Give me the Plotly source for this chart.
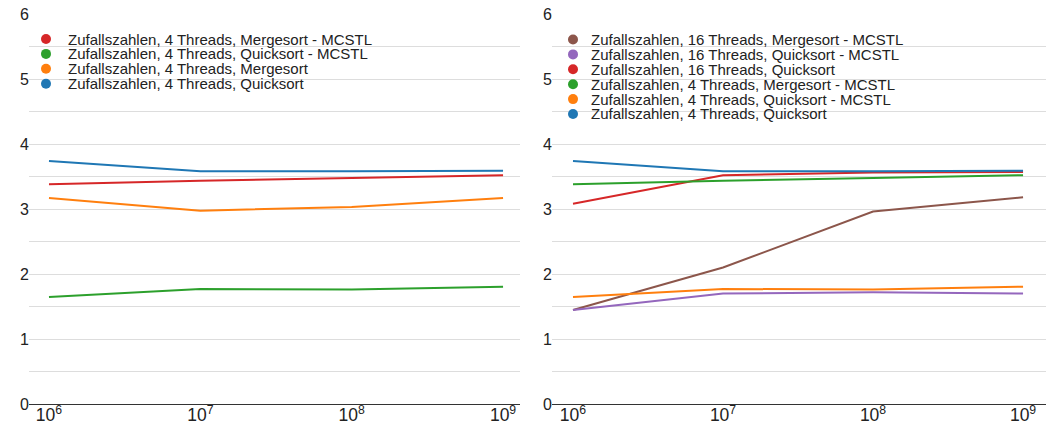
import plotly.graph_objects as go
from plotly.subplots import make_subplots

# Data
x_sizes = [1e6, 1e7, 1e8, 1e9]

left_names = [
    "Zufallszahlen, 4 Threads, Mergesort - MCSTL",
    "Zufallszahlen, 4 Threads, Quicksort - MCSTL",
    "Zufallszahlen, 4 Threads, Mergesort",
    "Zufallszahlen, 4 Threads, Quicksort",
]
left_values = [
    [3.38, 3.435, 3.477, 3.52],
    [1.646, 1.77, 1.76, 1.805],
    [3.17, 2.975, 3.03, 3.17],
    [3.74, 3.58, 3.58, 3.59],
]
left_colors = ["#d62728", "#2ca02c", "#ff7f0e", "#1f77b4"]

right_names = [
    "Zufallszahlen, 16 Threads, Mergesort - MCSTL",
    "Zufallszahlen, 16 Threads, Quicksort - MCSTL",
    "Zufallszahlen, 16 Threads, Quicksort",
    "Zufallszahlen, 4 Threads, Mergesort - MCSTL",
    "Zufallszahlen, 4 Threads, Quicksort - MCSTL",
    "Zufallszahlen, 4 Threads, Quicksort",
]
right_values = [
    [1.446, 2.10, 2.96, 3.18],
    [1.446, 1.70, 1.72, 1.70],
    [3.08, 3.52, 3.56, 3.57],
    [3.38, 3.435, 3.477, 3.52],
    [1.646, 1.77, 1.76, 1.805],
    [3.74, 3.58, 3.58, 3.59],
]
right_colors = ["#8c564b", "#9467bd", "#d62728", "#2ca02c", "#ff7f0e", "#1f77b4"]

W, H = 1046, 425
TOP, BOTTOM = 14, 404
FONT = "Liberation Sans, Arial, sans-serif"

fig = make_subplots(rows=1, cols=2, horizontal_spacing=0.0)

for names, vals, cols, c in [(left_names, left_values, left_colors, 1),
                             (right_names, right_values, right_colors, 2)]:
    for n, v, col in zip(names, vals, cols):
        fig.add_trace(go.Scatter(x=x_sizes, y=v, name=n, mode="lines",
                                 line=dict(color=col, width=2), showlegend=False),
                      row=1, col=c)

def px_x(p):
    return p / W

def px_y(p):
    return (BOTTOM - p) / (BOTTOM - TOP)

annotations = []
shapes = []
def add_legend(names, cols, cx, tx, y0, step):
    for i, (n, col) in enumerate(zip(names, cols)):
        py = y0 + i * step
        shapes.append(dict(type="circle", xref="paper", yref="paper",
                           xsizemode="pixel", ysizemode="pixel",
                           xanchor=px_x(cx), yanchor=px_y(py),
                           x0=-5, x1=5, y0=-5, y1=5,
                           fillcolor=col, line=dict(width=0)))
        annotations.append(dict(text=n, xref="paper", yref="paper",
                                x=px_x(tx), y=px_y(py), xanchor="left", yanchor="middle",
                                showarrow=False, font=dict(family=FONT, size=15, color="#222")))

add_legend(left_names, left_colors, 46, 66, 39.0, 14.9)
add_legend(right_names, right_colors, 573, 589, 39.5, 14.9)

axis_common = dict(
    type="log", dtick=1, exponentformat="power", showgrid=False, zeroline=False,
    showline=True, linecolor="#333", linewidth=1, ticks="", automargin=False,
    ticklabelstandoff=-4,
    tickfont=dict(family=FONT, size=14, color="#222"),
)
fig.update_xaxes(**axis_common)
fig.update_xaxes(domain=[29 / W, 520 / W], range=[5.868, 9.112], row=1, col=1)
fig.update_xaxes(domain=[552 / W, 1.0], range=[5.86, 9.153], row=1, col=2)

fig.update_yaxes(range=[0, 6], dtick=1, showgrid=True, gridcolor="#dddddd", gridwidth=1,
                 minor=dict(dtick=0.5, showgrid=True, gridcolor="#dddddd", gridwidth=1),
                 zeroline=False, showline=False, ticks="", automargin=False,
                 ticklabelstandoff=-1,
                 tickfont=dict(family=FONT, size=16, color="#222"))

fig.update_layout(
    width=W, height=H,
    margin=dict(l=0, r=0, t=TOP, b=H - BOTTOM),
    plot_bgcolor="white", paper_bgcolor="white",
    font=dict(family=FONT, color="#222"),
    showlegend=False,
    annotations=annotations, shapes=shapes,
)

fig.write_html("out.html")
